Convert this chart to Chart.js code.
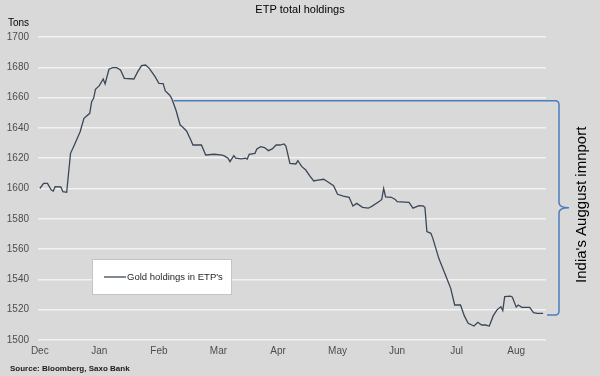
<!DOCTYPE html>
<html>
<head>
<meta charset="utf-8">
<script src="https://cdn.jsdelivr.net/npm/chart.js"></script>
<style>
  html, body { margin: 0; padding: 0; background: #d9d9d9; }
  canvas { display: block; }
</style>
</head>
<body>
<canvas id="etp-holdings" width="600" height="376"></canvas>
<script>
// month tick labels, Dec 2012 .. Aug 2013
const monthLabels = ["Dec", "Jan", "Feb", "Mar", "Apr", "May", "Jun", "Jul", "Aug"];

const dates = [
  "2012-12-01", "2012-12-03", "2012-12-05", "2012-12-07", "2012-12-08", "2012-12-09", "2012-12-12", "2012-12-13",
  "2012-12-15", "2012-12-17", "2012-12-19", "2012-12-22", "2012-12-24", "2012-12-27", "2012-12-28", "2012-12-29",
  "2012-12-30",
  "2013-01-01", "2013-01-03", "2013-01-04", "2013-01-06", "2013-01-08", "2013-01-10", "2013-01-12", "2013-01-14",
  "2013-01-19", "2013-01-21", "2013-01-23", "2013-01-25", "2013-01-27", "2013-01-30",
  "2013-02-01", "2013-02-03", "2013-02-04", "2013-02-06", "2013-02-07", "2013-02-09", "2013-02-11", "2013-02-12",
  "2013-02-14", "2013-02-16", "2013-02-17", "2013-02-21", "2013-02-23", "2013-02-27",
  "2013-03-03", "2013-03-04", "2013-03-06", "2013-03-07", "2013-03-09", "2013-03-10", "2013-03-13", "2013-03-15",
  "2013-03-16", "2013-03-17", "2013-03-20", "2013-03-21", "2013-03-23", "2013-03-25", "2013-03-27", "2013-03-29",
  "2013-03-31",
  "2013-04-02", "2013-04-04", "2013-04-05", "2013-04-07", "2013-04-10", "2013-04-11", "2013-04-13", "2013-04-15",
  "2013-04-17", "2013-04-19", "2013-04-21", "2013-04-24", "2013-04-26", "2013-04-29",
  "2013-05-01", "2013-05-04", "2013-05-07", "2013-05-09", "2013-05-11", "2013-05-14", "2013-05-17", "2013-05-19",
  "2013-05-23", "2013-05-24", "2013-05-25", "2013-05-26", "2013-05-29", "2013-05-31",
  "2013-06-01", "2013-06-07", "2013-06-09", "2013-06-12", "2013-06-14", "2013-06-15", "2013-06-16", "2013-06-18",
  "2013-06-19", "2013-06-22", "2013-06-26", "2013-06-28", "2013-06-30",
  "2013-07-03", "2013-07-05", "2013-07-07", "2013-07-10", "2013-07-12", "2013-07-14", "2013-07-16", "2013-07-18",
  "2013-07-20", "2013-07-22", "2013-07-24", "2013-07-25", "2013-07-26", "2013-07-29", "2013-07-30",
  "2013-08-01", "2013-08-02", "2013-08-04", "2013-08-08", "2013-08-10", "2013-08-12", "2013-08-15"
];

// tons
const holdings = [
  1600, 1603.4, 1603.4, 1599, 1598.3, 1601.2, 1601, 1597.9,
  1597.5, 1623.2, 1628.7, 1637.5, 1646.3, 1649.6, 1657.3, 1659.5,
  1665.5,
  1667.9, 1672.3, 1669, 1678.7, 1679.8, 1679.8, 1678.2, 1672.7,
  1672.3, 1677.1, 1681.1, 1681.5, 1679.3, 1673.8,
  1669.4, 1669.3, 1664.4, 1661.7, 1659.5, 1651.8, 1641.9, 1640.8,
  1638, 1632, 1628.7, 1628.7, 1622.1, 1622.6,
  1622, 1621.5, 1620, 1617.7, 1621.7, 1620, 1619.6, 1620,
  1619.4, 1622.6, 1623.2, 1626.1, 1627.6, 1627, 1625, 1626.1,
  1628.7,
  1628.7, 1629.4, 1628, 1616.6, 1616.2, 1618.4, 1614.4, 1612.2,
  1608.3, 1605, 1605.6, 1606.1, 1604.5, 1601.8,
  1596.2, 1595, 1594.2, 1588.4, 1590.2, 1587.6, 1587, 1588.4,
  1591.7, 1592.8, 1600, 1594.5, 1594.2, 1592.8,
  1591.3, 1590.9, 1587, 1588.7, 1588.5, 1587.6, 1571.5, 1570.4,
  1567.1, 1553.9, 1540.7, 1534.1, 1523.1,
  1523.1, 1515.9, 1511, 1509.2, 1511.7, 1509.9, 1509.9, 1509.2,
  1515.9, 1519.9, 1522, 1519.4, 1528.6, 1529, 1528.2,
  1521.7, 1523.1, 1521.6, 1521.6, 1518.1, 1517.6, 1517.6
];

// bracket for India's August import: from the early Feb level down to the latest level
const bracketStart = "2013-02-08";
const bracketValues = [1658, 1516.5];

// position on the x axis in months since 1 Dec 2012
function monthPos(s) {
  const [y, m, d] = s.split("-").map(Number);
  const idx = (y - 2012) * 12 + (m - 12);
  const days = new Date(y, m, 0).getDate();
  return idx + (d - 1) / days;
}

const FONT = "'Liberation Sans', Arial, sans-serif";
const tickFont = { family: FONT, size: 10 };
const tickColor = "#4d4d4d";

const overlay = {
  id: "overlay",
  beforeDraw(chart) {
    const c = chart.ctx;
    c.save();
    c.fillStyle = "#d9d9d9";
    c.fillRect(0, 0, chart.width, chart.height);
    c.restore();
  },
  afterDraw(chart) {
    const c = chart.ctx;
    const area = chart.chartArea;
    const xs = chart.scales.x, ys = chart.scales.y;
    c.save();

    // title, unit, source
    c.fillStyle = "#000";
    c.textBaseline = "middle";
    c.textAlign = "center";
    c.font = "11px " + FONT;
    c.fillText("ETP total holdings", 300, 10);
    c.textAlign = "left";
    c.font = "10px " + FONT;
    c.fillText("Tons", 8, 23);
    c.font = "bold 8px " + FONT;
    c.fillStyle = "#1a1a1a";
    c.fillText("Source: Bloomberg, Saxo Bank", 10, 369);

    // legend box
    const lx = area.left + 54, ly = area.top + 222;
    c.fillStyle = "#fff";
    c.fillRect(lx, ly, 140, 36);
    c.strokeStyle = "#c4c4c4";
    c.lineWidth = 1;
    c.strokeRect(lx + 0.5, ly + 0.5, 139, 35);
    const ds = chart.data.datasets[0];
    c.strokeStyle = ds.borderColor;
    c.lineWidth = 1.3;
    c.beginPath();
    c.moveTo(lx + 12, ly + 18);
    c.lineTo(lx + 34, ly + 18);
    c.stroke();
    c.fillStyle = "#262626";
    c.font = "9.5px " + FONT;
    c.fillText(ds.label, lx + 35, ly + 18);

    // bracket
    const yTop = ys.getPixelForValue(bracketValues[0]);
    const yBot = ys.getPixelForValue(bracketValues[1]);
    const yMid = (yTop + yBot) / 2;
    const bx = area.right + 13;
    c.strokeStyle = "#4a7ebb";
    c.lineWidth = 1.5;
    c.beginPath();
    c.moveTo(xs.getPixelForValue(monthPos(bracketStart)), yTop);
    c.lineTo(bx - 4, yTop);
    c.quadraticCurveTo(bx, yTop, bx, yTop + 4);
    c.lineTo(bx, yMid - 5);
    c.quadraticCurveTo(bx, yMid, bx + 10, yMid);
    c.quadraticCurveTo(bx, yMid, bx, yMid + 5);
    c.lineTo(bx, yBot - 4);
    c.quadraticCurveTo(bx, yBot, bx - 4, yBot);
    c.lineTo(area.right + 1, yBot);
    c.stroke();

    c.translate(582, yMid - 3);
    c.rotate(-Math.PI / 2);
    c.textAlign = "center";
    c.fillStyle = "#000";
    c.font = "15px " + FONT;
    c.fillText("India's Auggust imnport", 0, 0);
    c.restore();
  }
};

new Chart("etp-holdings", {
  type: "line",
  data: {
    datasets: [
      {
        label: "Gold holdings in ETP's",
        data: dates.map((d, i) => ({ x: monthPos(d), y: holdings[i] })),
        borderColor: "#3b4759",
        borderWidth: 1.3,
        pointRadius: 0,
        tension: 0
      }
    ]
  },
  options: {
    responsive: false,
    animation: false,
    layout: { padding: { left: 0, top: 37, right: 54, bottom: 16 } },
    plugins: {
      legend: { display: false },
      title: { display: false },
      tooltip: { enabled: false }
    },
    scales: {
      x: {
        type: "linear",
        min: -0.03,
        max: 8.5,
        afterBuildTicks: axis => { axis.ticks = monthLabels.map((_, i) => ({ value: i })); },
        ticks: { callback: v => monthLabels[v], autoSkip: false, maxRotation: 0, padding: 5, color: tickColor, font: tickFont },
        grid: { display: false, drawTicks: false },
        border: { display: false },
        afterFit: axis => { axis.height = 20; }
      },
      y: {
        min: 1500,
        max: 1700,
        ticks: { stepSize: 20, padding: 9, color: tickColor, font: tickFont, callback: v => String(v) },
        grid: { color: "#f2f2f2", lineWidth: 1.5, drawTicks: false },
        border: { display: false },
        afterFit: axis => { axis.width = 38; }
      }
    }
  },
  plugins: [overlay]
});
</script>
</body>
</html>
